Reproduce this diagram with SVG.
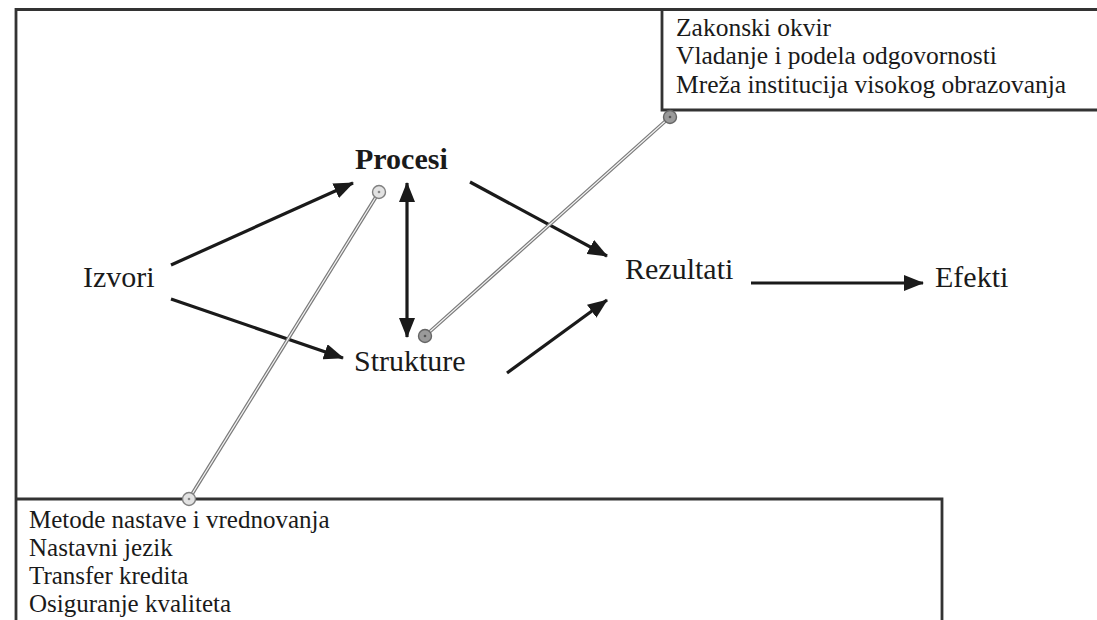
<svg xmlns="http://www.w3.org/2000/svg" width="1097" height="620" viewBox="0 0 1097 620">
<style>
.frame{fill:none;stroke:#333;stroke-width:2.8}
.lbl{font-family:"Liberation Serif","Times New Roman",serif;font-size:30px;fill:#1a1a1a}
.bold{font-weight:bold}
.box{font-family:"Liberation Serif","Times New Roman",serif;font-size:25px;fill:#1a1a1a}
.boxt{font-size:25.5px}
.arr{stroke:#1a1a1a;stroke-width:3.2;fill:none}
.co1{stroke:#7a7a7a;stroke-width:3.6;fill:none}
.co2{stroke:#f4f4f4;stroke-width:1.2;fill:none}
.pl{fill:#e2e2e2;stroke:#808080;stroke-width:1.4}
.pd{fill:#9a9a9a;stroke:#666;stroke-width:1.4}
</style>
<defs>
<marker id="ah" viewBox="0 0 20 16" refX="19" refY="8" markerWidth="20" markerHeight="16" markerUnits="userSpaceOnUse" orient="auto-start-reverse">
<path d="M0,0 L20,8 L0,16 Z" fill="#1a1a1a"/>
</marker>
</defs>
<rect width="1097" height="620" fill="#fff"/>
<g id="frame">
<path class="frame" d="M16,620 V9.5 H1097"/>
</g>
<g id="box-top">
<path class="frame" d="M1097,110 H662 V9.5"/>
<text class="box boxt" x="676" y="36">Zakonski okvir</text>
<text class="box boxt" x="676" y="64">Vladanje i podela odgovornosti</text>
<text class="box boxt" x="676" y="93">Mreža institucija visokog obrazovanja</text>
</g>
<g id="box-bottom">
<path class="frame" d="M16,499 H942 V620"/>
<text class="box" x="29" y="528">Metode nastave i vrednovanja</text>
<text class="box" x="29" y="556">Nastavni jezik</text>
<text class="box" x="29" y="584">Transfer kredita</text>
<text class="box" x="29" y="612">Osiguranje kvaliteta</text>
</g>
<g id="izvori"><text class="lbl" x="83" y="287">Izvori</text></g>
<g id="procesi"><text class="lbl bold" x="355" y="169">Procesi</text></g>
<g id="strukture"><text class="lbl" x="354" y="371">Strukture</text></g>
<g id="rezultati"><text class="lbl" x="625" y="279">Rezultati</text></g>
<g id="efekti"><text class="lbl" x="935" y="287">Efekti</text></g>
<g id="connectors">
<line class="arr" x1="171" y1="265" x2="353" y2="183" marker-end="url(#ah)"/>
<line class="arr" x1="171" y1="299" x2="343" y2="358" marker-end="url(#ah)"/>
<line class="arr" x1="407" y1="183" x2="407" y2="337" marker-start="url(#ah)" marker-end="url(#ah)"/>
<line class="arr" x1="470" y1="182" x2="607" y2="256" marker-end="url(#ah)"/>
<line class="arr" x1="507" y1="373" x2="607" y2="300" marker-end="url(#ah)"/>
<line class="arr" x1="751" y1="283" x2="923" y2="283" marker-end="url(#ah)"/>
<line class="co1" x1="379" y1="192" x2="189" y2="499"/>
<line class="co2" x1="379" y1="192" x2="189" y2="499"/>
<line class="co1" x1="425" y1="336" x2="670" y2="117"/>
<line class="co2" x1="425" y1="336" x2="670" y2="117"/>
<circle class="pl" cx="379" cy="192" r="6.5"/>
<circle class="pl" cx="189" cy="499" r="6.5"/>
<circle class="pd" cx="425" cy="336" r="6.5"/>
<circle class="pd" cx="670" cy="117" r="6.5"/>
<circle cx="379" cy="192" r="1.3" fill="#888"/>
<circle cx="189" cy="499" r="1.3" fill="#888"/>
<circle cx="425" cy="336" r="1.3" fill="#555"/>
<circle cx="670" cy="117" r="1.3" fill="#555"/>
</g>
</svg>
